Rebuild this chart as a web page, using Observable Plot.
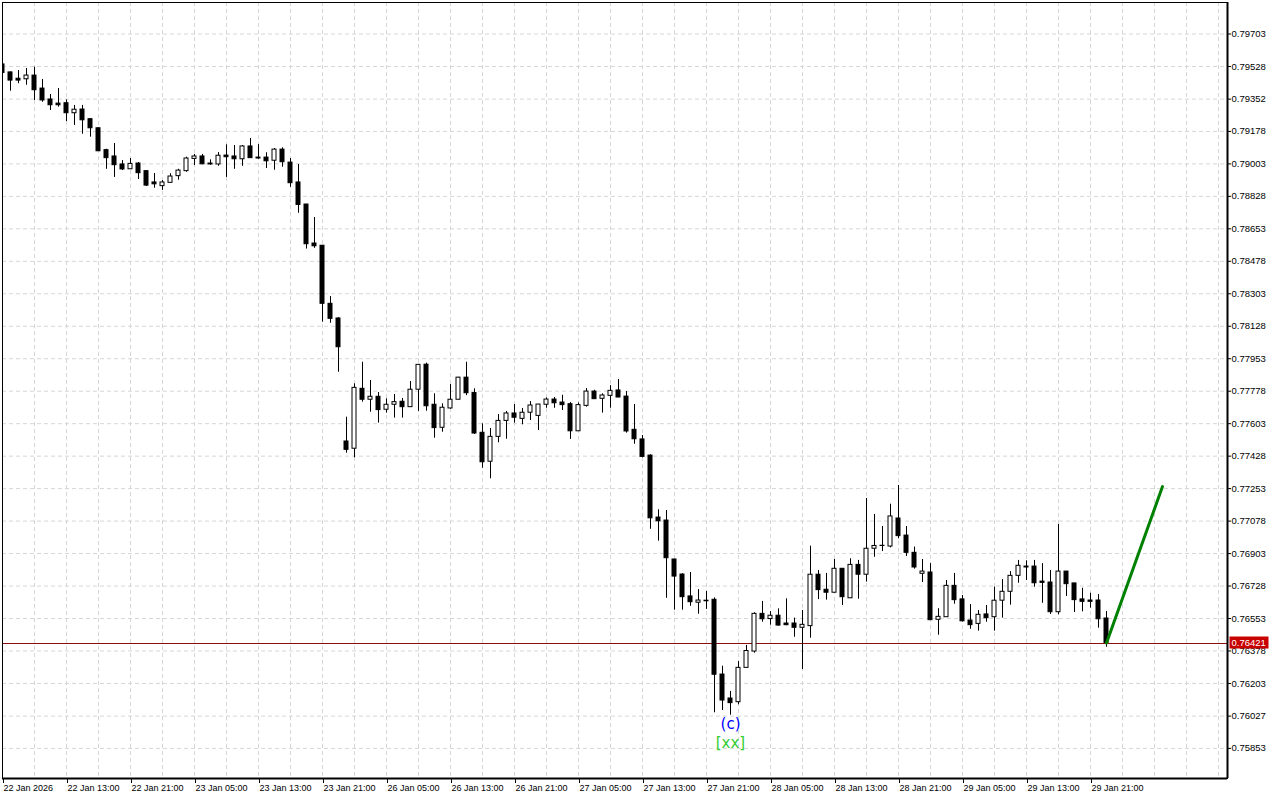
<!DOCTYPE html>
<html>
<head>
<meta charset="utf-8">
<script src="https://cdn.jsdelivr.net/npm/d3@7"></script>
<script src="https://cdn.jsdelivr.net/npm/@observablehq/plot@0.6"></script>
<style>
  html, body { margin: 0; padding: 0; background: #ffffff; }
  #chart { position: absolute; left: 0; top: 0; }
</style>
</head>
<body>
<div id="chart"></div>
<script>
// Hourly candles, 22 Jan 2026 05:00 -> 29 Jan 2026 23:00 (weekend skipped)
const open = [0.79539,0.79496,0.79462,0.79459,0.79479,0.79409,0.79350,0.79328,0.79330,0.79276,
0.79296,0.79244,0.79195,0.79077,0.79043,0.79000,0.78974,0.79005,0.78964,0.78903,
0.78883,0.78901,0.78937,0.78964,0.79030,0.79043,0.79005,0.79000,0.79048,0.79043,
0.79028,0.79097,0.79037,0.79037,0.79020,0.79080,0.79010,0.78903,0.78784,0.78574,
0.78562,0.78249,0.78170,0.77507,0.77468,0.77791,0.77732,0.77748,0.77678,0.77705,
0.77721,0.77692,0.77786,0.77921,0.77705,0.77581,0.77685,0.77732,0.77851,0.77768,
0.77554,0.77398,0.77532,0.77618,0.77658,0.77629,0.77662,0.77645,0.77705,0.77733,
0.77717,0.77708,0.77562,0.77699,0.77776,0.77737,0.77753,0.77782,0.77749,0.77570,
0.77518,0.77431,0.77097,0.77081,0.76871,0.76790,0.76672,0.76638,0.76649,0.76654,
0.76251,0.76122,0.76102,0.76287,0.76375,0.76578,0.76550,0.76568,0.76526,0.76526,
0.76503,0.76512,0.76789,0.76708,0.76692,0.76821,0.76662,0.76842,0.76789,0.76929,
0.76945,0.76941,0.77092,0.77000,0.76907,0.76794,0.76801,0.76546,0.76560,0.76729,
0.76656,0.76542,0.76524,0.76575,0.76560,0.76649,0.76697,0.76783,0.76828,0.76833,
0.76752,0.76747,0.76587,0.76806,0.76742,0.76656,0.76650,0.76650,0.76553];
const high = [0.79544,0.79498,0.79506,0.79517,0.79524,0.79458,0.79377,0.79409,0.79348,0.79318,
0.79318,0.79246,0.79197,0.79082,0.79113,0.79021,0.79032,0.79010,0.78966,0.78951,
0.78913,0.78950,0.78974,0.79039,0.79054,0.79054,0.79025,0.79064,0.79106,0.79102,
0.79102,0.79140,0.79107,0.79063,0.79086,0.79090,0.79032,0.79000,0.78785,0.78714,
0.78563,0.78288,0.78174,0.77638,0.77818,0.77934,0.77836,0.77771,0.77737,0.77760,
0.77739,0.77830,0.77922,0.77929,0.77764,0.77710,0.77814,0.77853,0.77934,0.77791,
0.77602,0.77577,0.77652,0.77669,0.77706,0.77685,0.77722,0.77707,0.77742,0.77744,
0.77756,0.77717,0.77715,0.77792,0.77783,0.77764,0.77808,0.77841,0.77776,0.77706,
0.77539,0.77435,0.77139,0.77135,0.76872,0.76794,0.76801,0.76709,0.76699,0.76664,
0.76296,0.76160,0.76321,0.76408,0.76584,0.76645,0.76590,0.76605,0.76659,0.76555,
0.76596,0.76943,0.76812,0.76796,0.76871,0.76822,0.76875,0.76866,0.77200,0.77114,
0.77049,0.77169,0.77270,0.77049,0.76938,0.76871,0.76849,0.76606,0.76758,0.76796,
0.76677,0.76628,0.76596,0.76623,0.76722,0.76763,0.76806,0.76866,0.76864,0.76866,
0.76849,0.76812,0.77060,0.76807,0.76743,0.76716,0.76689,0.76682,0.76591];
const low = [0.79490,0.79395,0.79435,0.79427,0.79345,0.79335,0.79291,0.79309,0.79231,0.79210,
0.79163,0.79147,0.79070,0.78974,0.78930,0.78967,0.78973,0.78919,0.78881,0.78872,
0.78860,0.78900,0.78915,0.78958,0.78994,0.78998,0.78996,0.78990,0.78930,0.78974,
0.78990,0.79033,0.79028,0.78978,0.78969,0.78985,0.78877,0.78737,0.78544,0.78548,
0.78150,0.78144,0.77880,0.77444,0.77419,0.77719,0.77665,0.77606,0.77660,0.77633,
0.77633,0.77691,0.77669,0.77670,0.77525,0.77557,0.77681,0.77731,0.77754,0.77545,
0.77363,0.77306,0.77500,0.77519,0.77606,0.77597,0.77620,0.77566,0.77686,0.77686,
0.77674,0.77518,0.77561,0.77692,0.77734,0.77660,0.77686,0.77743,0.77552,0.77492,
0.77419,0.77034,0.76970,0.76662,0.76598,0.76598,0.76619,0.76576,0.76602,0.76045,
0.76057,0.76032,0.76088,0.76286,0.76366,0.76533,0.76517,0.76512,0.76514,0.76452,
0.76278,0.76447,0.76655,0.76652,0.76691,0.76623,0.76661,0.76657,0.76749,0.76883,
0.76914,0.76934,0.76983,0.76887,0.76819,0.76747,0.76543,0.76463,0.76559,0.76630,
0.76534,0.76495,0.76485,0.76533,0.76485,0.76555,0.76625,0.76743,0.76758,0.76722,
0.76635,0.76575,0.76573,0.76672,0.76585,0.76589,0.76609,0.76501,0.76398];
const close = [0.79493,0.79452,0.79452,0.79479,0.79400,0.79345,0.79319,0.79319,0.79276,0.79295,
0.79238,0.79195,0.79071,0.79034,0.78996,0.78973,0.79003,0.78953,0.78886,0.78893,
0.78903,0.78935,0.78967,0.79032,0.79043,0.79001,0.79000,0.79047,0.79039,0.79028,
0.79097,0.79034,0.79032,0.79017,0.79080,0.79012,0.78899,0.78782,0.78570,0.78559,
0.78249,0.78168,0.78015,0.77462,0.77796,0.77732,0.77748,0.77676,0.77705,0.77719,
0.77692,0.77786,0.77920,0.77697,0.77579,0.77689,0.77732,0.77851,0.77767,0.77550,
0.77395,0.77532,0.77618,0.77658,0.77635,0.77662,0.77701,0.77706,0.77733,0.77713,
0.77703,0.77562,0.77703,0.77776,0.77735,0.77755,0.77780,0.77744,0.77561,0.77519,
0.77424,0.77093,0.77077,0.76878,0.76779,0.76668,0.76641,0.76650,0.76646,0.76250,
0.76111,0.76097,0.76287,0.76378,0.76578,0.76549,0.76568,0.76515,0.76517,0.76503,
0.76519,0.76789,0.76706,0.76692,0.76821,0.76668,0.76842,0.76789,0.76929,0.76944,
0.76944,0.77103,0.76997,0.76907,0.76828,0.76806,0.76544,0.76562,0.76729,0.76652,
0.76538,0.76517,0.76573,0.76555,0.76649,0.76697,0.76783,0.76837,0.76833,0.76743,
0.76745,0.76587,0.76806,0.76738,0.76652,0.76643,0.76643,0.76549,0.76421];

// price axis tick labels
const yTicks = [0.79703,0.79528,0.79352,0.79178,0.79003,0.78828,0.78653,0.78478,0.78303,0.78128,
0.77953,0.77778,0.77603,0.77428,0.77253,0.77078,0.76903,0.76728,0.76553,0.76378,0.76203,0.76027,0.75853];
// time axis labels, one every 8 bars
const xTickLabels = ["22 Jan 2026","22 Jan 13:00","22 Jan 21:00","23 Jan 05:00","23 Jan 13:00","23 Jan 21:00",
"26 Jan 05:00","26 Jan 13:00","26 Jan 21:00","27 Jan 05:00","27 Jan 13:00","27 Jan 21:00",
"28 Jan 05:00","28 Jan 13:00","28 Jan 21:00","29 Jan 05:00","29 Jan 13:00","29 Jan 21:00"];
// projection line (bar index offset, target price)
const projectionBars = [0, 7];
const projectionPrices = [close[close.length - 1], 0.77264];
// wave labels
const waveLabels = ["(c)", "[xx]"];

const bars = open.map((o, k) => ({i: k, o, h: high[k], l: low[k], c: close[k], up: close[k] >= o}));
const lastIdx = bars.length - 1;
const lastClose = close[lastIdx];
const xTickIdx = xTickLabels.map((_, k) => k * 8);
const gridIdx = d3.range(0, 153, 4);
const projection = projectionBars.map((b, k) => ({i: lastIdx + b, p: projectionPrices[k]}));
const lowIdx = d3.minIndex(low);

const xDomain = [0, 153.125];
const yDomain = [0.756908, 0.798728];

const plot = Plot.plot({
  width: 1280,
  height: 800,
  marginLeft: 2,
  marginRight: 53,
  marginTop: 2,
  marginBottom: 22,
  x: {type: "linear", domain: xDomain},
  y: {type: "linear", domain: yDomain},
  style: {fontFamily: "'Liberation Sans', Arial, sans-serif", fontSize: "9px", background: "#ffffff", color: "#000000", overflow: "visible"},
  marks: [
    Plot.gridY(yTicks, {stroke: "#d6d6d6", strokeOpacity: 1, strokeDasharray: "4,3"}),
    Plot.gridX(gridIdx, {stroke: "#d6d6d6", strokeOpacity: 1, strokeDasharray: "4,3"}),
    Plot.ruleY([lastClose], {stroke: "#8c1010", strokeWidth: 1, shapeRendering: "crispEdges"}),
    Plot.ruleX(bars, {x: "i", y1: "l", y2: "h", stroke: "#000000", strokeWidth: 1, clip: true}),
    Plot.rect(bars, {x1: d => d.i - 0.25, x2: d => d.i + 0.25, y1: "o", y2: "c",
      fill: d => d.up ? "#ffffff" : "#000000", stroke: "#000000", strokeWidth: 1, clip: true}),
    Plot.line(projection, {x: "i", y: "p", stroke: "#008000", strokeWidth: 3}),
    Plot.text([waveLabels[0]], {x: () => lowIdx, y: () => low[lowIdx], text: d => d, dy: 9,
      fill: "#0000ff", fontSize: 15, fontFamily: "'DejaVu Sans', sans-serif"}),
    Plot.text([waveLabels[1]], {x: () => lowIdx, y: () => low[lowIdx], text: d => d, dy: 28,
      fill: "#32cd32", fontSize: 15, fontFamily: "'DejaVu Sans', sans-serif"}),
    Plot.frame({stroke: "#000000", strokeWidth: 1}),
    Plot.ruleX([xDomain[1]], {stroke: "#000000", strokeWidth: 2}),
    Plot.ruleY([yDomain[0]], {stroke: "#000000", strokeWidth: 2}),
    Plot.axisY(yTicks, {anchor: "right", tickSize: 3, tickPadding: 1, label: null,
      tickFormat: d => d.toFixed(5), fontSize: 9.5}),
    Plot.axisX(xTickIdx, {anchor: "bottom", tickSize: 5, tickPadding: 1, label: null,
      tickFormat: d => xTickLabels[xTickIdx.indexOf(d)], textAnchor: "start", dx: 1, fontSize: 9})
  ]
});

document.getElementById("chart").appendChild(plot);

// current price tag on the price axis
const ys = plot.scale("y").apply(lastClose);
const xr = plot.scale("x").range;
const svg = d3.select(plot);
const tag = svg.append("g");
tag.append("rect").attr("x", xr[1] + 2.5).attr("y", ys - 6).attr("width", 39).attr("height", 12).attr("fill", "#c80000");
tag.append("text").attr("x", xr[1] + 4.5).attr("y", ys + 0.5).attr("dy", "0.35em")
  .attr("text-anchor", "start")
  .attr("fill", "#ffffff").attr("font-size", 9.5).attr("font-family", "'Liberation Sans', Arial, sans-serif")
  .text(lastClose.toFixed(5));
</script>
</body>
</html>
